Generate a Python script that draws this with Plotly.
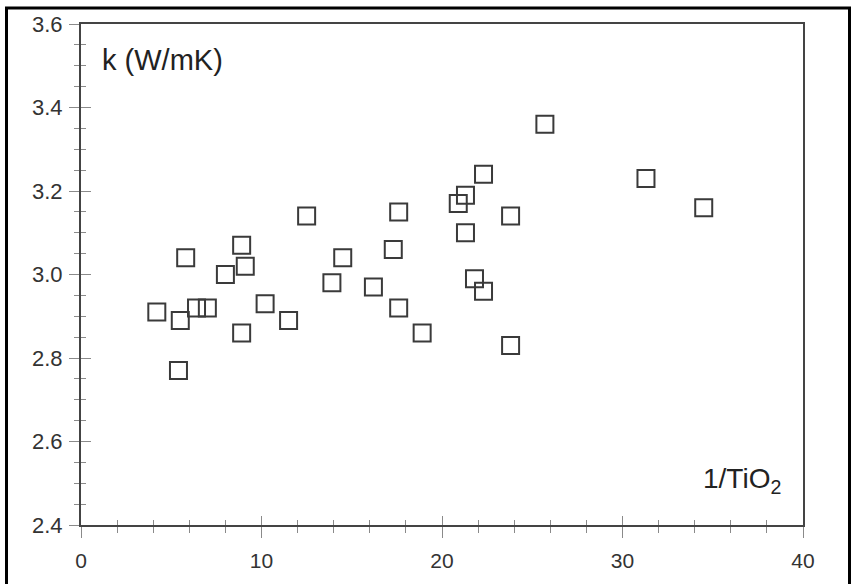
import plotly.graph_objects as go

# Measured thermal conductivity against inverse TiO2 content
inv_tio2 = [4.2, 5.5, 5.4, 5.8, 6.4, 7.0, 8.0, 8.9, 9.1, 8.9, 10.2, 11.5, 12.5,
            13.9, 14.5, 16.2, 17.3, 17.6, 17.6, 18.9, 20.9, 21.3, 21.3, 22.3,
            21.8, 22.3, 23.8, 23.8, 25.7, 31.3, 34.5]
k_values = [2.91, 2.89, 2.77, 3.04, 2.92, 2.92, 3.00, 3.07, 3.02, 2.86, 2.93,
            2.89, 3.14, 2.98, 3.04, 2.97, 3.06, 3.15, 2.92, 2.86, 3.17, 3.19,
            3.10, 3.24, 2.99, 2.96, 3.14, 2.83, 3.36, 3.23, 3.16]

x_ticks = [0, 10, 20, 30, 40]
y_ticks = [2.4, 2.6, 2.8, 3.0, 3.2, 3.4, 3.6]
x_range = [0, 40]
y_range = [2.4, 3.6]

W, H = 853, 584
ML, MR, MT, MB = 81, 50, 23, 44

AXIS = "#444444"
TICK = "#8a8a8a"
TEXT = "#333333"
FONT = "Liberation Sans, Arial, sans-serif"

fig = go.Figure()
fig.add_trace(go.Scatter(
    x=inv_tio2, y=k_values, mode="markers",
    marker=dict(symbol="square-open", size=17, color="#3a3a3a",
                line=dict(width=2, color="#3a3a3a")),
    showlegend=False, hoverinfo="x+y",
))
# empty trace that carries the inner half of the crossing ticks
fig.add_trace(go.Scatter(x=[], y=[], xaxis="x2", yaxis="y2", showlegend=False))

common = dict(showgrid=False, zeroline=False, tickcolor=TICK, tickwidth=1)

fig.update_layout(
    width=W, height=H,
    margin=dict(l=ML, r=MR, t=MT, b=MB, pad=0),
    paper_bgcolor="white", plot_bgcolor="white",
    font=dict(family=FONT, color=TEXT, size=21),
    xaxis=dict(range=x_range, tickvals=x_ticks, ticks="outside", ticklen=11,
               ticklabelstandoff=5,
               showline=True, linecolor=AXIS, linewidth=2, mirror=True,
               minor=dict(dtick=2, ticks="outside", ticklen=6, tickcolor=TICK),
               tickfont=dict(size=21, color=TEXT), **common),
    yaxis=dict(range=y_range, tickvals=y_ticks, ticks="outside", ticklen=10,
               tickformat=".1f", ticklabelstandoff=2,
               showline=True, linecolor=AXIS, linewidth=2, mirror=True,
               minor=dict(dtick=0.05, ticks="outside", ticklen=5, tickcolor=TICK),
               tickfont=dict(size=22, color=TEXT), **common),
    xaxis2=dict(range=x_range, overlaying="x", anchor="y2", side="bottom",
                tickvals=x_ticks, ticks="inside", ticklen=9, showticklabels=False,
                showline=False,
                minor=dict(dtick=2, ticks="inside", ticklen=5, tickcolor=TICK),
                **common),
    yaxis2=dict(range=y_range, overlaying="y", anchor="x2", side="left",
                tickvals=y_ticks, ticks="inside", ticklen=10, showticklabels=False,
                showline=False,
                minor=dict(dtick=0.05, ticks="inside", ticklen=5, tickcolor=TICK),
                **common),
)

fig.add_annotation(text="k (W/mK)", xref="paper", yref="paper",
                   x=0.026, y=0.928, xanchor="left", yanchor="middle",
                   showarrow=False, font=dict(size=29, color="#222222"))
fig.add_annotation(text="1/TiO<sub>2</sub>", xref="paper", yref="paper",
                   x=0.972, y=0.088, xanchor="right", yanchor="middle",
                   showarrow=False, font=dict(size=28, color="#222222"))

# black outer frame around the whole figure
pw, ph = W - ML - MR, H - MT - MB
fig.add_shape(type="rect", xref="paper", yref="paper",
              x0=(6.5 - ML) / pw, x1=(849.5 - ML) / pw,
              y0=-(H + 20 - MT - ph) / ph, y1=1 + (MT - 6.5) / ph,
              line=dict(color="black", width=3), fillcolor="rgba(0,0,0,0)",
              layer="below")

fig.write_html("out.html")
